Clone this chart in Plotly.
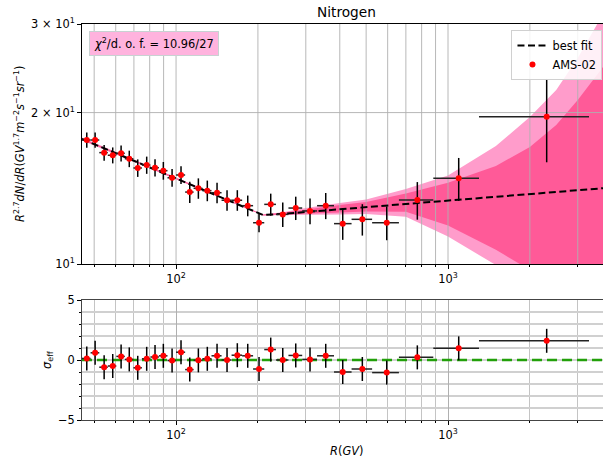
import math
import plotly.graph_objects as go

# ---------------- data ----------------
R = [46.96, 50.4, 54.4, 58.5, 62.8, 67.3, 72.3, 78.0, 83.7, 89.8, 96.7, 104.3,
     112.3, 120.8, 130.3, 141.5, 154.0, 168.0, 183.5, 201.9, 222.9, 246.8, 275.5,
     310.9, 355.1, 410.1, 484.2, 595.2, 771.3, 1094.9, 2306.0]
R_edges = [45.1, 48.5, 52.2, 56.1, 60.3, 64.8, 69.7, 74.9, 80.5, 86.5, 93.0, 100.0,
           108.0, 116.0, 125.0, 135.0, 147.0, 160.0, 175.0, 192.0, 211.0, 233.0, 259.0,
           291.0, 330.0, 381.0, 442.0, 526.0, 660.0, 883.0, 1300.0, 3300.0]
flux = [17.64, 17.64, 16.65, 16.45, 16.60, 16.19, 15.52, 15.73, 15.54, 15.33, 14.84, 15.03,
        13.90, 14.14, 13.99, 13.86, 13.39, 13.39, 13.06, 12.08, 13.14, 12.55, 12.92,
        12.75, 13.06, 12.03, 12.27, 12.08, 13.40, 14.80, 19.63]
flux_err = [0.61, 0.62, 0.60, 0.60, 0.61, 0.61, 0.62, 0.62, 0.62, 0.62, 0.60, 0.61,
            0.68, 0.66, 0.66, 0.65, 0.63, 0.63, 0.62, 0.52, 0.66, 0.70, 0.69,
            0.75, 0.78, 0.86, 0.88, 0.93, 1.15, 1.45, 3.70]
sigma_eff = [0.13, 0.60, -0.60, -0.50, 0.30, 0.05, -0.65, 0.10, 0.25, 0.35, -0.05, 0.65,
             -0.80, -0.03, 0.10, 0.35, 0.00, 0.40, 0.35, -0.75, 0.87, 0.00, 0.38,
             0.05, 0.35, -1.00, -0.75, -1.05, 0.22, 0.97, 1.60]

R_fit = [45.1, 100, 209, 250, 300, 400, 500, 700, 1000, 1500, 2000, 2500, 3000, 3715]
fit_vals = [17.72, 14.80, 12.515, 12.589, 12.687, 12.851, 12.969, 13.161, 13.367,
            13.602, 13.777, 13.904, 14.019, 14.148]
band_light_lo = [17.60, 14.72, 12.486, 12.515, 12.515, 12.543, 12.572, 12.412, 11.336,
                 9.954, 8.797, 7.564, 6.298, 4.896]
band_dark_lo = [17.66, 14.76, 12.492, 12.543, 12.601, 12.658, 12.716, 12.705, 11.933,
                10.677, 9.729, 8.677, 7.393, 5.880]
band_dark_hi = [17.78, 14.84, 12.537, 12.658, 12.834, 13.101, 13.282, 13.815, 14.509,
                15.661, 17.084, 18.895, 21.184, 24.640]
band_light_hi = [17.84, 14.88, 12.543, 12.687, 12.922, 13.221, 13.435, 14.096, 14.995,
                 17.163, 19.600, 22.178, 25.677, 31.406]

chi2_text = "<i>χ</i><sup>2</sup>/d. o. f. = 10.96/27"

x_major = [100, 1000]
x_major_text = ["10<sup>2</sup>", "10<sup>3</sup>"]
x_minor = [50, 60, 70, 80, 90, 200, 300, 400, 500, 600, 700, 800, 900, 2000, 3000]
y_top_ticks = [10, 20, 30]
y_top_text = ["10<sup>1</sup>", "2 × 10<sup>1</sup>", "3 × 10<sup>1</sup>"]
y_bot_ticks = [-5, 0, 5]
y_bot_text = ["−5", "0", "5"]
x_lim = [45.1, 3715]
y_top_lim = [10, 30]
y_bot_lim = [-5, 5]
zero_level = [0, 0]

# ---------------- styling ----------------
FONT = "DejaVu Sans"
FS = 11.4
LIGHT = "#ff9ccb"
DARK = "#ff5a98"
GRID = "#b0b0b0"

xerr_minus = [R[i] - R_edges[i] for i in range(len(R))]
xerr_plus = [R_edges[i + 1] - R[i] for i in range(len(R))]

fig = go.Figure()

# confidence bands
fig.add_trace(go.Scatter(x=R_fit, y=band_light_lo, mode="lines", line=dict(width=0),
                         showlegend=False, hoverinfo="skip", xaxis="x", yaxis="y"))
fig.add_trace(go.Scatter(x=R_fit, y=band_light_hi, mode="lines", line=dict(width=0),
                         fill="tonexty", fillcolor=LIGHT, showlegend=False,
                         hoverinfo="skip", xaxis="x", yaxis="y"))
fig.add_trace(go.Scatter(x=R_fit, y=band_dark_lo, mode="lines", line=dict(width=0),
                         showlegend=False, hoverinfo="skip", xaxis="x", yaxis="y"))
fig.add_trace(go.Scatter(x=R_fit, y=band_dark_hi, mode="lines", line=dict(width=0),
                         fill="tonexty", fillcolor=DARK, showlegend=False,
                         hoverinfo="skip", xaxis="x", yaxis="y"))

# grid of the upper panel drawn above the bands (as matplotlib does)
gx, gy = [], []
for v in x_major + x_minor:
    gx += [v, v, None]
    gy += [y_top_lim[0], y_top_lim[1], None]
for v in y_top_ticks[1:-1]:
    gx += [x_lim[0], x_lim[1], None]
    gy += [v, v, None]
fig.add_trace(go.Scatter(x=gx, y=gy, mode="lines", line=dict(color=GRID, width=0.9),
                         showlegend=False, hoverinfo="skip", xaxis="x", yaxis="y"))

# best fit
fig.add_trace(go.Scatter(x=R_fit, y=fit_vals, mode="lines", name="best fit",
                         line=dict(color="black", width=2, dash="7px,3.5px"),
                         xaxis="x", yaxis="y"))

# data
fig.add_trace(go.Scatter(
    x=R, y=flux, mode="markers", name="AMS-02",
    marker=dict(color="red", size=6),
    error_y=dict(type="data", array=flux_err, color="black", thickness=1.5, width=0),
    error_x=dict(type="data", array=xerr_plus, arrayminus=xerr_minus,
                 color="#222222", thickness=1.5, width=0),
    xaxis="x", yaxis="y"))

# residual panel: zero reference line then points
fig.add_trace(go.Scatter(x=x_lim, y=zero_level, mode="lines", showlegend=False,
                         hoverinfo="skip",
                         line=dict(color="#22a00a", width=2.7, dash="10px,5px"),
                         xaxis="x2", yaxis="y2"))
fig.add_trace(go.Scatter(
    x=R, y=sigma_eff, mode="markers", showlegend=False,
    marker=dict(color="red", size=6),
    error_y=dict(type="constant", value=1, color="black", thickness=1.5, width=0),
    error_x=dict(type="data", array=xerr_plus, arrayminus=xerr_minus,
                 color="#222222", thickness=1.5, width=0),
    xaxis="x2", yaxis="y2"))

xr = [math.log10(x_lim[0]), math.log10(x_lim[1])]
tickfont = dict(family=FONT, size=FS, color="black")

common_x = dict(type="log", range=xr, tickmode="array", tickvals=x_major,
                ticktext=x_major_text, ticks="outside", ticklen=4, tickwidth=1,
                tickcolor="black", showline=True, mirror=True, tickfont=tickfont)

fig.update_layout(
    width=603, height=459,
    margin=dict(l=82, r=0, t=24, b=39),
    paper_bgcolor="white", plot_bgcolor="white",
    font=dict(family=FONT, size=FS, color="black"),
    xaxis=dict(**common_x, domain=[0, 1], anchor="y", linecolor="black", linewidth=1,
               showgrid=False,
               minor=dict(tickmode="array", tickvals=x_minor, ticks="outside",
                          ticklen=2, tickwidth=1, tickcolor="black", showgrid=False)),
    yaxis=dict(type="log", range=[math.log10(y_top_lim[0]), math.log10(y_top_lim[1])],
               domain=[0.3939, 1], anchor="x", tickmode="array", tickvals=y_top_ticks,
               ticktext=y_top_text, ticks="outside", ticklen=4, tickwidth=1,
               tickcolor="black", showline=True, linecolor="black", linewidth=1,
               showgrid=False, zeroline=False, tickfont=tickfont),
    xaxis2=dict(**common_x, domain=[0, 1], anchor="y2", linecolor="#444444",
                linewidth=1, showgrid=True, gridcolor=GRID, gridwidth=0.9,
                minor=dict(tickmode="array", tickvals=x_minor, ticks="outside",
                           ticklen=2, tickwidth=1, tickcolor="black", showgrid=True,
                           gridcolor="#c4c4c4", gridwidth=1.2)),
    yaxis2=dict(range=y_bot_lim, domain=[0, 0.3030], anchor="x2", tickmode="array",
                tickvals=y_bot_ticks, ticktext=y_bot_text, ticks="outside", ticklen=4,
                tickwidth=1, tickcolor="black", showline=True, linecolor="#444444",
                linewidth=1, showgrid=True, gridcolor="#d0d0d0", gridwidth=1.5,
                zeroline=False, tickfont=tickfont,
                minor=dict(dtick=1, ticks="outside", ticklen=2, tickwidth=1,
                           tickcolor="black", showgrid=True, gridcolor="#d0d0d0",
                           gridwidth=1.5)),
    legend=dict(x=0.999, xanchor="right", y=0.985, yanchor="top", traceorder="normal",
                bgcolor="rgba(255,255,255,0.85)", bordercolor="#d0d0d0", borderwidth=1,
                font=dict(family=FONT, size=FS, color="black"), itemwidth=30,
                tracegroupgap=0),
    showlegend=True,
)

annotations = [
    dict(text="Nitrogen", xref="paper", yref="paper", x=0.5086, y=1.0303,
         xanchor="center", yanchor="middle", showarrow=False,
         font=dict(family=FONT, size=13.7, color="black")),
    dict(text=chi2_text, xref="paper", yref="paper", x=0.0134, y=0.982,
         xanchor="left", yanchor="top", showarrow=False, bgcolor="#ffb3de",
         bordercolor="#c8d2d2", borderwidth=1, borderpad=4,
         font=dict(family=FONT, size=FS, color="black")),
    dict(text="<i>R</i><sup>2.7</sup><i>dN</i>/<i>dR</i>(<i>GV</i><sup>1.7</sup>"
              "<i>m</i><sup>−2</sup><i>s</i><sup>−1</sup><i>sr</i><sup>−1</sup>)",
         xref="paper", yref="paper", x=-0.119, y=0.697, textangle=-90,
         xanchor="center", yanchor="middle", showarrow=False,
         font=dict(family=FONT, size=FS, color="black")),
    dict(text="<i>σ</i><sub>eff</sub>", xref="paper", yref="paper", x=-0.0672,
         y=0.1515, textangle=-90, xanchor="center", yanchor="middle", showarrow=False,
         font=dict(family=FONT, size=FS, color="black")),
    dict(text="<i>R</i>(<i>GV</i>)", xref="paper", yref="paper", x=0.5077, y=-0.0783,
         xanchor="center", yanchor="middle", showarrow=False,
         font=dict(family=FONT, size=FS, color="black")),
]
fig.update_layout(annotations=annotations)

fig.write_html("out.html")
